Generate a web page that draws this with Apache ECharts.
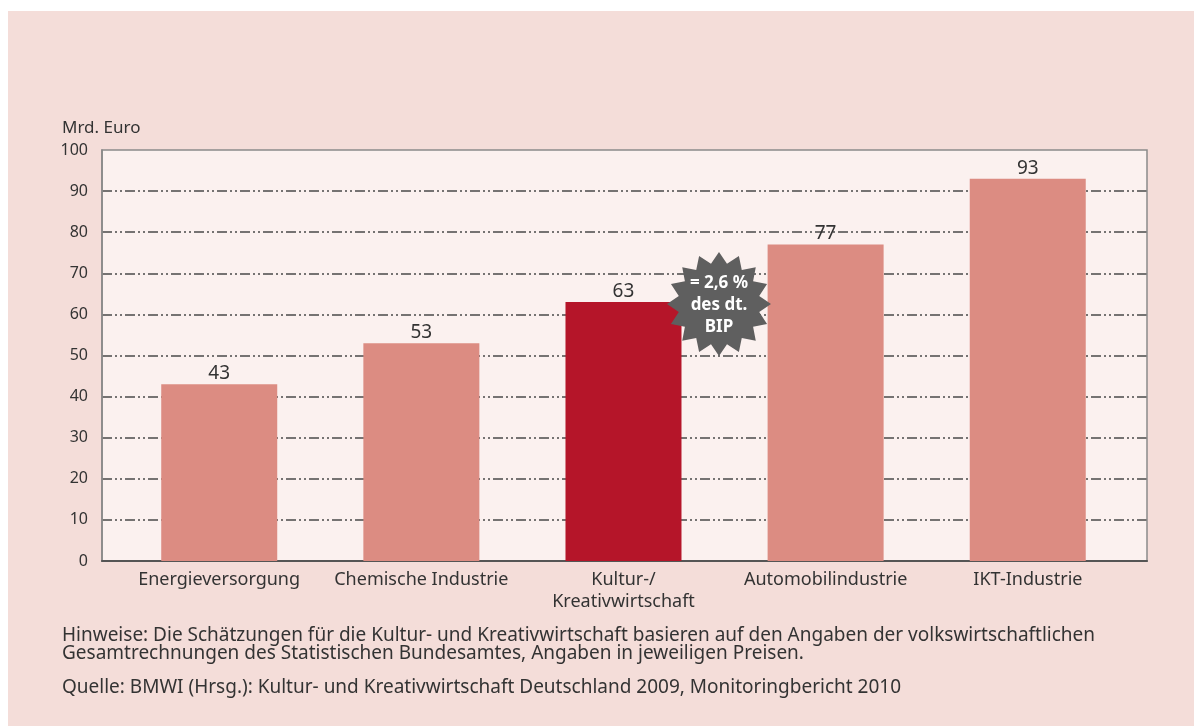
<!DOCTYPE html>
<html>
<head>
<meta charset="utf-8">
<script src="https://cdn.jsdelivr.net/npm/echarts@6/dist/echarts.min.js"></script>
<style>
  html, body { margin: 0; padding: 0; background: #ffffff; }
  #main { position: absolute; left: 8px; top: 11px; width: 1186px; height: 715px; background: #f4ddd9; }
</style>
</head>
<body>
<div id="main"></div>
<script>
// data
var categories = ['Energieversorgung', 'Chemische Industrie', 'Kultur-/\nKreativwirtschaft', 'Automobilindustrie', 'IKT-Industrie'];
var values = [43, 53, 63, 77, 93];
var highlight = [false, false, true, false, false];
var yTicks = [0, 10, 20, 30, 40, 50, 60, 70, 80, 90, 100];
var unitLabel = 'Mrd. Euro';
var starText = '= 2,6 %\ndes dt.\nBIP';
var notes = [
    'Hinweise: Die Schätzungen für die Kultur- und Kreativwirtschaft basieren auf den Angaben der volkswirtschaftlichen',
    'Gesamtrechnungen des Statistischen Bundesamtes, Angaben in jeweiligen Preisen.'
];
var source = 'Quelle: BMWI (Hrsg.): Kultur- und Kreativwirtschaft Deutschland 2009, Monitoringbericht 2010';

var font = '"Noto Sans", "Open Sans", sans-serif';
var chart = echarts.init(document.getElementById('main'));

// plot box in px (inside #main)
var box = { left: 94, right: 47, top: 139, bottom: 165 };
var W = 1186, H = 715;

// star shape for the annotation
function starPoints(cx, cy, rOut, rIn, n) {
    var pts = [];
    for (var i = 0; i < n * 2; i++) {
        var r = i % 2 === 0 ? rOut : rIn;
        var a = Math.PI * i / n - Math.PI / 2;
        pts.push([cx + r * Math.cos(a), cy + r * Math.sin(a)]);
    }
    return pts;
}

// bars sit on a value x axis (index 0..4) so the plot box can be wider than the category band
var option = {
    backgroundColor: 'transparent',
    animation: false,
    grid: [
        { left: box.left, right: box.right, top: box.top, bottom: box.bottom, show: true, backgroundColor: 'transparent', borderColor: '#8a8a8a', borderWidth: 1.5 },
        { left: 110, right: 65, top: box.top, bottom: box.bottom }
    ],
    xAxis: [
        {
            gridIndex: 0, type: 'value', min: -0.58, max: 4.59,
            axisLine: { show: true, onZero: false, lineStyle: { color: '#555', width: 2 } },
            axisTick: { show: false }, axisLabel: { show: false }, splitLine: { show: false }
        },
        {
            gridIndex: 1, type: 'category', data: categories,
            axisLine: { show: false }, axisTick: { show: false },
            axisLabel: { interval: 0, color: '#333', fontFamily: font, fontSize: 18, margin: 8, lineHeight: 22 }
        }
    ],
    yAxis: [
        {
            gridIndex: 0, type: 'value', min: 0, max: 100, interval: 10, z: -5,
            name: unitLabel, nameLocation: 'end', nameGap: 13,
            nameTextStyle: { color: '#333', fontFamily: font, fontSize: 17, align: 'left', padding: [0, 0, 0, -40] },
            axisLine: { show: true, onZero: false, lineStyle: { color: '#7a7a7a', width: 1.5 } },
            axisTick: { show: false },
            axisLabel: {
                color: '#333', fontFamily: font, fontSize: 16, margin: 14,
                formatter: function (v) { return yTicks.indexOf(v) >= 0 ? String(v) : ''; }
            },
            splitLine: {
                show: true, showMaxLine: false, showMinLine: false,
                lineStyle: { color: '#4a4a4a', width: 1.5, type: [10, 3, 2, 3, 2, 3] }
            }
        },
        { gridIndex: 1, type: 'value', min: 0, max: 100, show: false }
    ],
    series: [{
        type: 'bar',
        xAxisIndex: 0,
        yAxisIndex: 0,
        barWidth: 116,
        z: 10,
        data: values.map(function (v, i) {
            return { value: [i, v], itemStyle: { color: highlight[i] ? '#b51529' : '#dc8c82' } };
        }),
        label: {
            show: true, position: 'top', distance: 1,
            color: '#333', fontFamily: font, fontSize: 19,
            formatter: function (p) { return p.value[1]; }
        }
    }],
    graphic: [
        {
            type: 'rect', z: -10, silent: true,
            shape: { x: box.left, y: box.top, width: W - box.left - box.right, height: H - box.top - box.bottom },
            style: { fill: '#fbf1ef' }
        },
        {
            type: 'polygon', z: 20,
            shape: { points: starPoints(711, 293, 52, 41, 16) },
            style: { fill: '#5f5f5f' }
        },
        {
            type: 'text', z: 21, x: 711, y: 294,
            style: {
                text: starText, fill: '#ffffff', font: 'bold 17px ' + font,
                align: 'center', verticalAlign: 'middle', lineHeight: 22
            }
        },
        {
            type: 'text', left: 54, top: 615,
            style: { text: notes.join('\n'), fill: '#333', font: '19px ' + font, lineHeight: 18 }
        },
        {
            type: 'text', left: 54, top: 667,
            style: { text: source, fill: '#333', font: '19px ' + font, lineHeight: 18 }
        }
    ]
};
chart.setOption(option);
</script>
</body>
</html>
